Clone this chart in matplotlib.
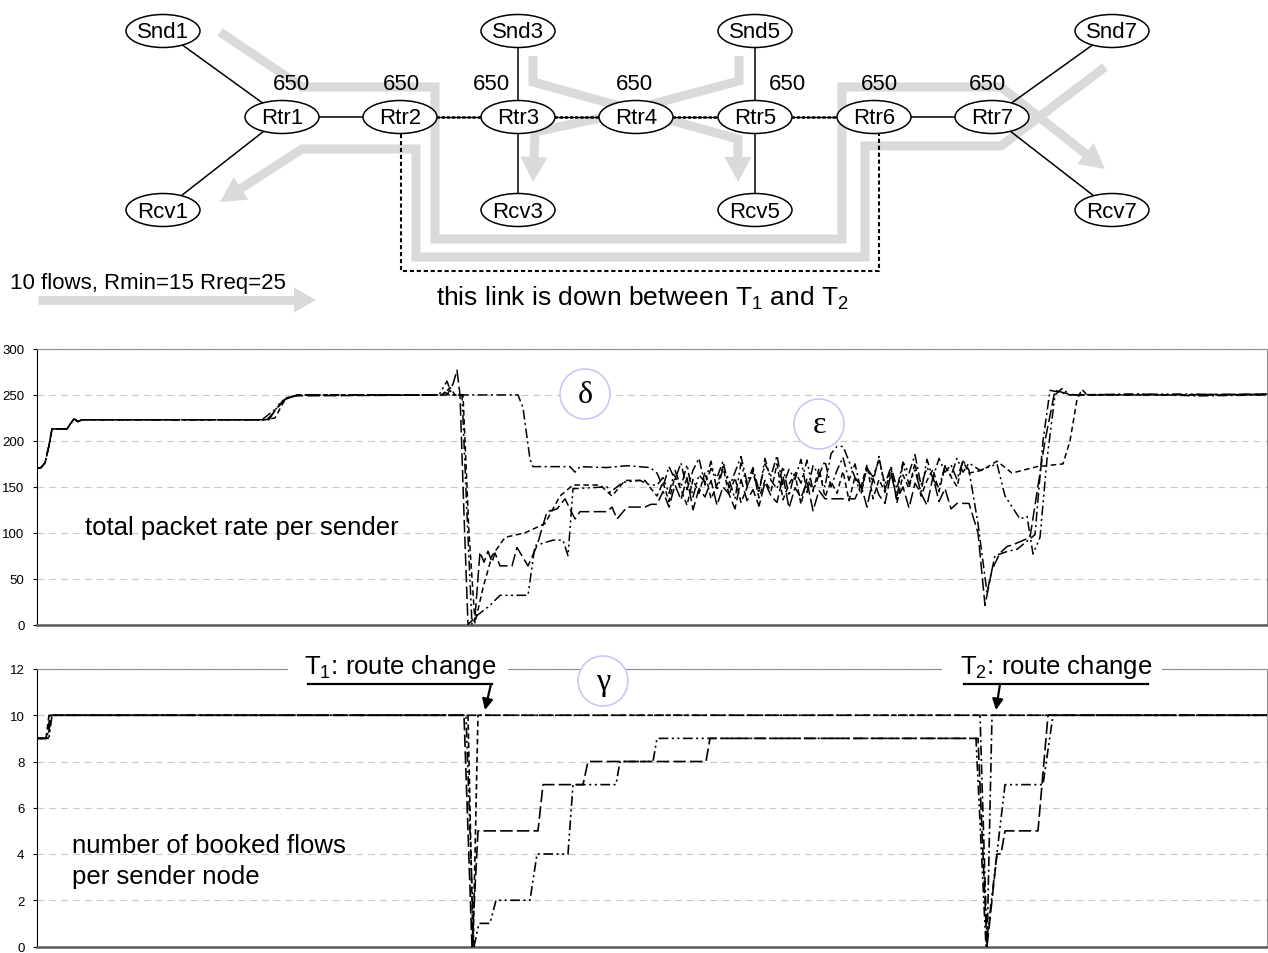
import numpy as np
import matplotlib.pyplot as plt
from matplotlib.patches import Ellipse, Circle, Polygon, Rectangle
from matplotlib import font_manager

plt.rcParams['font.family'] = ['Liberation Sans', 'DejaVu Sans']
plt.rcParams['mathtext.fontset'] = 'custom'
plt.rcParams['mathtext.rm'] = 'Liberation Sans'
plt.rcParams['mathtext.it'] = 'Liberation Sans:italic'
plt.rcParams['lines.scale_dashes'] = False

# narrow face for the network drawing if it is there
try:
    font_manager.findfont('Liberation Sans Narrow', fallback_to_default=False)
    NARROW, NODE_FS, FLOW_FS = 'Liberation Sans Narrow', 19.5, 19.5
except ValueError:
    NARROW, NODE_FS, FLOW_FS = 'Liberation Sans', 16, 16

# ---------------- network drawing ----------------
node_names = ['Snd1', 'Rtr1', 'Rcv1', 'Rtr2', 'Rtr3', 'Snd3', 'Rcv3', 'Rtr4',
              'Rtr5', 'Snd5', 'Rcv5', 'Rtr6', 'Rtr7', 'Snd7', 'Rcv7']
node_x = [163, 282, 163, 400, 518, 518, 518, 636, 755, 755, 755, 874, 992, 1112, 1112]
node_y = [32, 118, 211, 118, 118, 32, 211, 118, 118, 32, 211, 118, 118, 32, 211]

solid_links = [('Snd1', 'Rtr1'), ('Rtr1', 'Rcv1'), ('Rtr1', 'Rtr2'), ('Snd3', 'Rtr3'),
               ('Rtr3', 'Rcv3'), ('Snd5', 'Rtr5'), ('Rtr5', 'Rcv5'), ('Rtr6', 'Rtr7'),
               ('Snd7', 'Rtr7'), ('Rtr7', 'Rcv7')]
dashed_links = [('Rtr2', 'Rtr3'), ('Rtr3', 'Rtr4'), ('Rtr4', 'Rtr5'), ('Rtr5', 'Rtr6')]

capacity_x = [291, 401, 491, 634, 787, 879, 987]
capacity_label = '650'

# backup path that goes down between T1 and T2
down_link_x = [401, 401, 879, 879]
down_link_y = [135, 272, 272, 135]

# grey flow routes (last point = arrow tip)
route_a_x = [220, 302, 435, 435, 842, 842, 1001, 1105]
route_a_y = [33, 88, 88, 240, 240, 88, 88, 170]
route_b_x = [1105, 1001, 865, 865, 416, 416, 302, 220]
route_b_y = [68, 147, 147, 258, 258, 150, 150, 203]
route_c_x = [533, 533, 738, 738]
route_c_y = [57, 83, 140, 183]
route_d_x = [739, 739, 596, 535, 533]
route_d_y = [57, 82, 120, 133, 183]
legend_x = [38, 316]
legend_y = [301, 301]

# ---------------- time series ----------------
# time axis in samples (no labels in the figure)
rate_start_t = [0, 4, 8, 12, 15, 30, 33, 37, 41, 45]
rate_start_v = [170, 171, 176, 195, 213, 213, 218, 224, 221, 223]

rate1_t = [225, 240, 252, 262, 404, 408, 412, 481, 486, 493, 496, 533, 538, 543, 570, 590, 613]
rate1_v = [223, 236, 248, 250, 250, 253, 250, 250, 236, 180, 172, 172, 166, 172, 171, 173, 171]
rate2_t = [230, 236, 246, 258, 410, 416, 420, 423, 427, 431, 438, 443, 447, 451, 455, 458,
           463, 475, 480, 491, 500, 510, 520, 528, 538, 543, 570, 575, 580, 590, 608, 614]
rate2_v = [223, 230, 244, 249, 250, 262, 277, 250, 120, 0, 8, 79, 68, 80, 68, 78,
           64, 64, 84, 64, 86, 123, 126, 137, 115, 123, 123, 128, 115, 128, 128, 131]
rate3_t = [232, 242, 250, 264, 402, 410, 415, 425, 430, 435, 440, 453, 463, 491, 498, 516,
           526, 531, 536, 570, 573, 586, 603, 613]
rate3_v = [223, 240, 247, 250, 250, 265, 250, 250, 120, 0, 10, 21, 32, 32, 86, 92,
           92, 75, 148, 150, 144, 155, 157, 152]
rate4_t = [228, 238, 248, 260, 406, 413, 418, 426, 432, 438, 446, 455, 468, 488, 508, 523,
           536, 563, 575, 588, 608, 614]
rate4_v = [223, 225, 245, 250, 250, 258, 250, 250, 100, 2, 40, 75, 95, 100, 110, 140,
           152, 152, 140, 157, 157, 148]

# noisy phase while the link is down
noise_t = np.arange(620, 933, 6)
rate1_noise = [165, 150, 172, 158, 176, 147, 168, 181, 152, 170,
               160, 178, 149, 166, 183, 155, 171, 146, 175, 162,
               184, 151, 169, 158, 180, 144, 173, 163, 178, 150,
               168, 182, 157, 175, 146, 170, 161, 179, 153, 172,
               148, 177, 165, 185, 152, 171, 160, 181, 166, 174,
               158, 179, 168]
rate2_noise = [131, 145, 128, 152, 136, 160, 125, 148, 139, 157,
               130, 150, 142, 126, 158, 135, 147, 129, 155, 140,
               133, 162, 127, 149, 138, 156, 124, 146, 137, 137,
               137, 137, 137, 137, 152, 128, 159, 141, 132, 165,
               136, 150, 127, 154, 143, 130, 161, 134, 148, 126,
               132, 132, 132]
rate3_noise = [152, 160, 143, 168, 150, 174, 139, 163, 155, 178,
               146, 170, 158, 137, 176, 151, 165, 143, 181, 157,
               148, 172, 140, 167, 154, 179, 145, 163, 150, 186,
               194, 194, 178, 160, 142, 171, 155, 183, 147, 166,
               140, 175, 153, 168, 144, 180, 158, 149, 173, 162,
               181, 166, 176]
rate4_noise = [140, 155, 134, 162, 147, 130, 158, 143, 166, 137,
               152, 172, 141, 160, 133, 149, 168, 138, 157, 145,
               175, 136, 153, 164, 131, 159, 146, 170, 139, 156,
               143, 167, 135, 161, 150, 174, 137, 158, 144, 171,
               133, 163, 148, 176, 140, 157, 169, 145, 172, 161,
               150, 178, 165]

rate1_end_t = [941, 950, 958, 971, 980, 998, 1006, 1013, 1023, 1033, 1100, 1160, 1230]
rate1_end_v = [110, 35, 75, 80, 82, 98, 200, 255, 253, 250, 251, 249, 250]
rate2_end_t = [941, 948, 955, 963, 970, 978, 993, 1008, 1018, 1028, 1038, 1120, 1230]
rate2_end_v = [100, 21, 60, 78, 85, 88, 95, 200, 255, 252, 250, 250, 251]
rate3_end_t = [943, 960, 968, 983, 990, 996, 1003, 1010, 1018, 1025, 1033, 1140, 1230]
rate3_end_v = [168, 175, 140, 115, 118, 77, 95, 180, 250, 257, 250, 251, 250]
rate4_end_t = [945, 960, 975, 1000, 1026, 1033, 1040, 1045, 1050, 1180, 1230]
rate4_end_v = [168, 178, 165, 172, 175, 200, 245, 256, 250, 250, 251]

flows1_t = [0, 10, 13, 943, 950, 955, 1230]
flows1_v = [9, 9, 10, 10, 0, 10, 10]
flows2_t = [0, 11, 14, 427, 435, 441, 501, 506, 546, 551, 669, 673, 941, 950, 960, 964,
            968, 1001, 1011, 1230]
flows2_v = [9, 9, 10, 10, 0, 5, 5, 7, 7, 8, 8, 9, 9, 0, 4, 4,
            5, 5, 10, 10]
flows3_t = [0, 12, 15, 429, 437, 442, 453, 459, 493, 500, 531, 536, 579, 583, 616, 620,
            939, 949, 968, 1006, 1016, 1230]
flows3_v = [9, 9, 10, 10, 0, 1, 1, 2, 2, 4, 4, 7, 7, 8, 8, 9,
            9, 0, 7, 7, 10, 10]
flows4_t = [0, 9, 12, 431, 436, 441, 1230]
flows4_v = [9, 9, 10, 10, 0, 10, 10]

line_dashes = [(7, 2.5, 1.5, 2.5), (9, 3), (7, 2.5, 1.5, 2.5, 1.5, 2.5), (4, 2.5)]

GRAY = '#dadada'
W, H = 1268, 954

fig = plt.figure(figsize=(W / 100, H / 100), dpi=100)


def px_box(left, top, right, bottom):
    return [left / W, 1 - bottom / H, (right - left) / W, (bottom - top) / H]


ax1 = fig.add_axes(px_box(37, 350, 1267, 625.7))
ax2 = fig.add_axes(px_box(37, 670, 1267, 947.5))

rate_series = [
    (rate1_t, rate1_v, rate1_noise, rate1_end_t, rate1_end_v),
    (rate2_t, rate2_v, rate2_noise, rate2_end_t, rate2_end_v),
    (rate3_t, rate3_v, rate3_noise, rate3_end_t, rate3_end_v),
    (rate4_t, rate4_v, rate4_noise, rate4_end_t, rate4_end_v),
]
for (t, v, nv, te, ve), d in zip(rate_series, line_dashes):
    tt = rate_start_t + t + list(noise_t) + te
    vv = rate_start_v + v + nv + ve
    ax1.plot(tt, vv, color='black', lw=1.1, dashes=d, zorder=3)

flow_series = [(flows1_t, flows1_v), (flows2_t, flows2_v),
               (flows3_t, flows3_v), (flows4_t, flows4_v)]
for (t, v), d in zip(flow_series, line_dashes):
    ax2.plot(t, v, color='black', lw=1.2, dashes=d, zorder=3)

for ax, ymax, step in [(ax1, 300, 50), (ax2, 12, 2)]:
    ax.set_xlim(0, 1230)
    ax.set_ylim(0, ymax)
    ax.set_yticks(np.arange(0, ymax + 1, step))
    ax.set_xticks([])
    ax.grid(axis='y', color='#c8c8c8', lw=0.8, dashes=(5, 3.5), zorder=0)
    ax.spines['left'].set_color('black')
    ax.spines['left'].set_linewidth(0.8)
    ax.spines['top'].set_color('#8c8c8c')
    ax.spines['right'].set_color('#8c8c8c')
    ax.spines['bottom'].set_color('#5a5a5a')
    ax.spines['bottom'].set_linewidth(1.8)
    ax.tick_params(axis='y', length=3, width=0.8, pad=6, labelsize=9.5)

# ---------------- overlay in pixel units ----------------
ov = fig.add_axes([0, 0, 1, 1])
ov.set_xlim(0, W)
ov.set_ylim(H, 0)
ov.axis('off')
ov.patch.set_alpha(0)


def draw_route(xs, ys, head_len=25, head_w=27, lw=6.5):
    x0, y0, x1, y1 = xs[-2], ys[-2], xs[-1], ys[-1]
    d = np.hypot(x1 - x0, y1 - y0)
    ux, uy = (x1 - x0) / d, (y1 - y0) / d
    bx, by = x1 - ux * head_len, y1 - uy * head_len
    ov.plot(list(xs[:-1]) + [bx + ux * 2], list(ys[:-1]) + [by + uy * 2], color=GRAY,
            lw=lw, solid_joinstyle='miter', solid_capstyle='butt', zorder=1)
    ov.add_patch(Polygon([(bx - uy * head_w / 2, by + ux * head_w / 2), (x1, y1),
                          (bx + uy * head_w / 2, by - ux * head_w / 2)],
                         closed=True, fc=GRAY, ec='none', zorder=1))


for rx, ry in [(route_a_x, route_a_y), (route_b_x, route_b_y),
               (route_c_x, route_c_y), (route_d_x, route_d_y)]:
    draw_route(rx, ry)
draw_route(legend_x, legend_y, head_len=22, head_w=25, lw=6.3)

pos = {n: (x, y) for n, x, y in zip(node_names, node_x, node_y)}
for a, b in solid_links:
    ov.plot([pos[a][0], pos[b][0]], [pos[a][1], pos[b][1]], color='black', lw=1.1, zorder=2)
for a, b in dashed_links:
    ov.plot([pos[a][0], pos[b][0]], [pos[a][1], pos[b][1]], color='black', lw=0.8, zorder=2)
    ov.plot([pos[a][0], pos[b][0]], [pos[a][1], pos[b][1]], color='black', lw=1.8,
            dashes=(2.5, 1.2), zorder=2)
ov.plot(down_link_x, down_link_y, color='black', lw=1.5, dashes=(3, 2), zorder=2)

for n, x, y in zip(node_names, node_x, node_y):
    ov.add_patch(Ellipse((x, y), 74, 33, fc='white', ec='black', lw=1.1, zorder=3))
    ov.text(x, y + 1, n, family=NARROW, fontsize=NODE_FS, ha='center', va='center', zorder=4)

for x in capacity_x:
    ov.text(x, 90, capacity_label, fontsize=16, ha='center', va='baseline', zorder=4)

ov.text(10, 289, '10 flows, Rmin=15 Rreq=25', family=NARROW, fontsize=FLOW_FS,
        ha='left', va='baseline')
ov.text(642, 306, 'this link is down between T$_1$ and T$_2$', fontsize=19,
        ha='center', va='baseline')

# chart captions
ov.text(85, 535, 'total packet rate per sender', fontsize=18.5, ha='left', va='baseline')
ov.text(72, 853, 'number of booked flows', fontsize=18.5, ha='left', va='baseline')
ov.text(72, 884, 'per sender node', fontsize=18.5, ha='left', va='baseline')

# route change markers
for x0, x1, label, ux0, ux1, ax_from, ax_to in [
        (288, 508, 'T$_1$: route change', 308, 492, 491, 485),
        (942, 1162, 'T$_2$: route change', 964, 1148, 1000, 996)]:
    ov.add_patch(Rectangle((x0, 663), x1 - x0, 14, fc='white', ec='none', zorder=5))
    ov.text((ux0 + ux1) / 2, 674, label, fontsize=18.5, ha='center', va='baseline', zorder=6)
    ov.plot([ux0, ux1], [685, 685], color='black', lw=1.6, zorder=6)
    ov.annotate('', xy=(ax_to, 711), xytext=(ax_from, 685), zorder=6,
                arrowprops=dict(arrowstyle='-|>', color='black', lw=1.6,
                                mutation_scale=16, shrinkA=0, shrinkB=0))

# greek markers
for cx, cy, g in [(585, 395, 'δ'), (819, 425, 'ε'), (603, 682, 'γ')]:
    ov.add_patch(Circle((cx, cy), 25, fc='white', ec='#c8c8f2', lw=1.2, zorder=7))
    ov.text(cx, cy + 1, g, family='Liberation Serif', fontsize=23, ha='center',
            va='center', zorder=8)

fig.savefig('out.png', dpi=100)
